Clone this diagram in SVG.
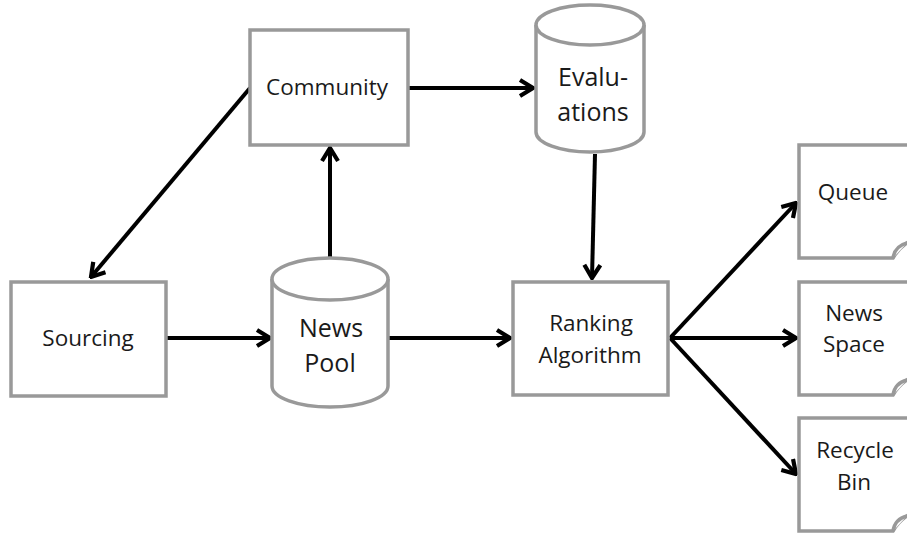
<svg xmlns="http://www.w3.org/2000/svg" width="907" height="533" viewBox="0 0 907 533">
<style>
.box{fill:#fff;stroke:#999;stroke-width:3.5}
.txt{font-family:"Open Sans","Noto Sans",sans-serif;font-size:22.5px;fill:#1a1a1a;text-anchor:middle}
.big{font-size:25px}
.con{stroke:#000;stroke-width:4;fill:none;marker-end:url(#ah)}
</style>
<defs>
<marker id="ah" viewBox="0 0 17 20" refX="15" refY="10" markerWidth="17" markerHeight="20" markerUnits="userSpaceOnUse" orient="auto">
<path d="M2,2 L15,10 L2,18" fill="none" stroke="#000" stroke-width="4.2" stroke-linejoin="miter"/>
</marker>
</defs>
<rect width="907" height="533" fill="#fff"/>
<g id="connectors">
<line class="con" x1="250" y1="88" x2="91" y2="277"/>
<line class="con" x1="409" y1="88" x2="533" y2="88"/>
<line class="con" x1="330" y1="258" x2="330" y2="148"/>
<line class="con" x1="595" y1="154" x2="592" y2="278"/>
<line class="con" x1="167" y1="338" x2="270" y2="338"/>
<line class="con" x1="389" y1="338" x2="510" y2="338"/>
<line class="con" x1="670" y1="338" x2="796" y2="203"/>
<line class="con" x1="670" y1="338" x2="796" y2="338"/>
<line class="con" x1="670" y1="338" x2="796" y2="474"/>
</g>
<g id="community">
<rect class="box" x="250" y="30" width="158" height="115"/>
<text class="txt" x="327" y="95">Community</text>
</g>
<g id="evaluations">
<path class="box" d="M536,25 A54,20 0 0 1 644,25 L644,132 A54,20 0 0 1 536,132 Z"/>
<path class="box" d="M536,25 A54,20 0 0 0 644,25" fill="none"/>
<text class="txt big" x="593" y="86">Evalu-</text>
<text class="txt big" x="593" y="121">ations</text>
</g>
<g id="newspool">
<path class="box" d="M272,279 A58,21 0 0 1 388,279 L388,386 A58,21 0 0 1 272,386 Z"/>
<path class="box" d="M272,279 A58,21 0 0 0 388,279" fill="none"/>
<text class="txt big" x="331" y="337">News</text>
<text class="txt big" x="330" y="372">Pool</text>
</g>
<g id="sourcing">
<rect class="box" x="11" y="282" width="155" height="114"/>
<text class="txt" x="88" y="346">Sourcing</text>
</g>
<g id="ranking">
<rect class="box" x="513" y="282" width="155" height="113"/>
<text class="txt" x="591" y="331">Ranking</text>
<text class="txt" x="590" y="363">Algorithm</text>
</g>
<g id="queue">
<path class="box" d="M912,145 L799,145 L799,258 L893,258 Q900,246 912,240"/>
<path class="box" d="M893,258 Q895,246 907,243" fill="none" stroke-width="2.5"/>
<text class="txt" x="853" y="200">Queue</text>
</g>
<g id="newsspace">
<path class="box" d="M912,282 L799,282 L799,395 L893,395 Q900,383 912,377"/>
<path class="box" d="M893,395 Q895,383 907,380" fill="none" stroke-width="2.5"/>
<text class="txt" x="854" y="321">News</text>
<text class="txt" x="854" y="352">Space</text>
</g>
<g id="recyclebin">
<path class="box" d="M912,418 L799,418 L799,531 L893,531 Q900,519 912,513"/>
<path class="box" d="M893,531 Q895,519 907,516" fill="none" stroke-width="2.5"/>
<text class="txt" x="855" y="458">Recycle</text>
<text class="txt" x="854" y="490">Bin</text>
</g>
</svg>
